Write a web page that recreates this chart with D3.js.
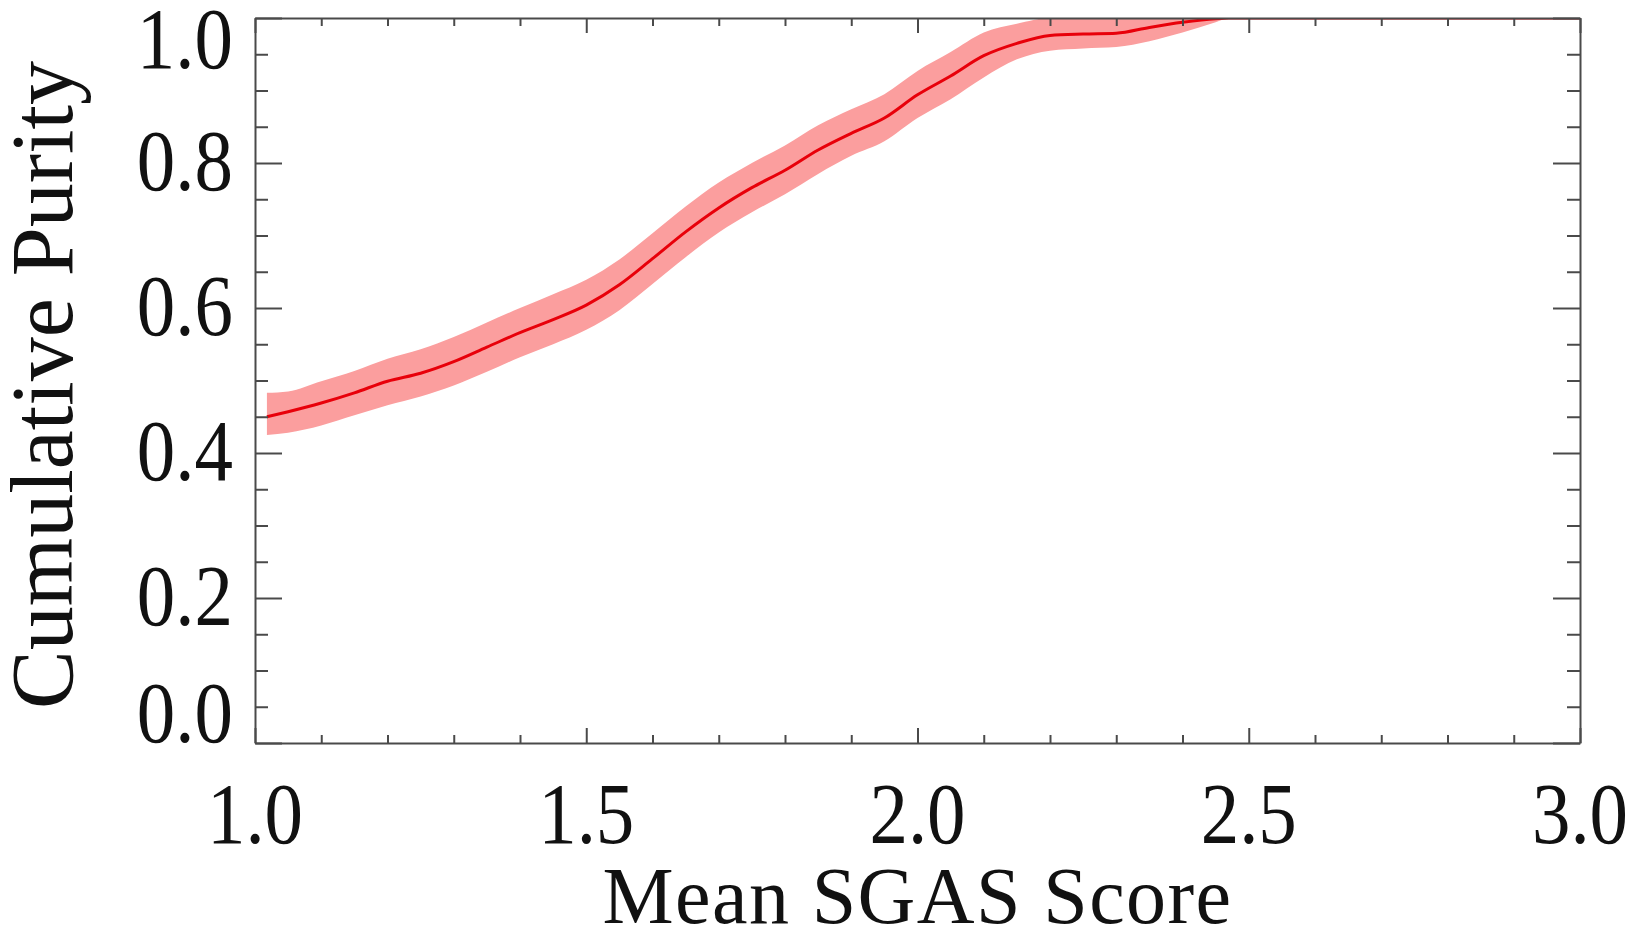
<!DOCTYPE html>
<html>
<head>
<meta charset="utf-8">
<script src="https://cdn.jsdelivr.net/npm/d3@7"></script>
<style>
  html, body { margin: 0; padding: 0; background: #fff; }
  svg { display: block; }
  text { font-family: "Liberation Serif", "DejaVu Serif", serif; fill: #111; }
</style>
</head>
<body>
<svg id="chart" width="1644" height="932"></svg>
<script>
// Mean SGAS score (x) and cumulative purity with its uncertainty band
const scores = [1.018, 1.05, 1.10, 1.15, 1.20, 1.25, 1.30, 1.35, 1.40, 1.45, 1.50, 1.55, 1.60, 1.65,
                1.70, 1.75, 1.80, 1.85, 1.90, 1.95, 2.00, 2.05, 2.10, 2.15, 2.20, 2.25, 2.30, 2.35,
                2.40, 2.45, 2.47, 2.60, 2.80, 3.00];
const purity = [0.450, 0.457, 0.469, 0.483, 0.499, 0.510, 0.526, 0.546, 0.566, 0.584, 0.604, 0.632, 0.668, 0.705,
                0.738, 0.766, 0.790, 0.818, 0.841, 0.862, 0.894, 0.920, 0.948, 0.965, 0.976, 0.978, 0.979, 0.987,
                0.994, 0.999, 1.000, 1.000, 1.000, 1.000];
const purityLow = [0.425, 0.428, 0.438, 0.452, 0.466, 0.478, 0.493, 0.512, 0.532, 0.550, 0.570, 0.597, 0.633, 0.670,
                   0.704, 0.732, 0.757, 0.785, 0.810, 0.830, 0.862, 0.888, 0.918, 0.943, 0.955, 0.958, 0.960, 0.968,
                   0.980, 0.994, 1.000, 1.000, 1.000, 1.000];
const purityHigh = [0.483, 0.485, 0.499, 0.513, 0.530, 0.543, 0.560, 0.580, 0.600, 0.619, 0.639, 0.667, 0.703, 0.740,
                    0.773, 0.800, 0.824, 0.852, 0.874, 0.895, 0.927, 0.953, 0.980, 0.992, 1.000, 1.000, 1.000, 1.000,
                    1.000, 1.000, 1.000, 1.000, 1.000, 1.000];

const xTicks = [1.0, 1.5, 2.0, 2.5, 3.0];
const xMinorTicks = d3.range(10, 31).map(d => d / 10);
const yTicks = [0.0, 0.2, 0.4, 0.6, 0.8, 1.0];
const yMinorTicks = d3.range(0, 21).map(d => d / 20);

const xTitle = "Mean SGAS Score";
const yTitle = "Cumulative Purity";

const svg = d3.select("#chart");
const plot = { left: 255, right: 1580, top: 18, bottom: 743 };

const x = d3.scaleLinear().domain([1.0, 3.0]).range([plot.left, plot.right]);
const y = d3.scaleLinear().domain([0.0, 1.0]).range([plot.bottom, plot.top]);

const data = scores.map((s, i) => ({ s, p: purity[i], lo: purityLow[i], hi: purityHigh[i] }));

svg.append("clipPath").attr("id", "plot-clip")
  .append("rect")
  .attr("x", plot.left).attr("y", plot.top)
  .attr("width", plot.right - plot.left).attr("height", plot.bottom - plot.top);

const g = svg.append("g").attr("clip-path", "url(#plot-clip)");

// uncertainty band
g.append("path")
  .datum(data)
  .attr("fill", "#fb9e9e")
  .attr("d", d3.area().x(d => x(d.s)).y0(d => y(d.lo)).y1(d => y(d.hi)).curve(d3.curveMonotoneX));

// purity curve
g.append("path")
  .datum(data)
  .attr("fill", "none")
  .attr("stroke", "#e8000a")
  .attr("stroke-width", 3)
  .attr("d", d3.line().x(d => x(d.s)).y(d => y(d.p)).curve(d3.curveMonotoneX));

// axes on all four sides, with major and minor ticks
const axisColor = "#4a4a4a";
const xMajorLen = 15, xMinorLen = 8, yMajorLen = 27, yMinorLen = 13;

function styleAxis(sel) {
  sel.selectAll("path.domain").attr("stroke", axisColor).attr("stroke-width", 2);
  sel.selectAll(".tick line").attr("stroke", axisColor).attr("stroke-width", 2);
  sel.selectAll(".tick text").remove();
}

const isMajorX = v => xTicks.some(t => Math.abs(t - v) < 1e-9);
const isMajorY = v => yTicks.some(t => Math.abs(t - v) < 1e-9);

function addXAxis(ypos, factory, sign) {
  const ax = svg.append("g").attr("transform", `translate(0,${ypos})`)
    .call(factory(x).tickValues(xMinorTicks).tickSizeOuter(0).tickSize(0));
  ax.selectAll(".tick line")
    .attr("y2", d => sign * (isMajorX(d) ? xMajorLen : xMinorLen));
  styleAxis(ax);
}
function addYAxis(xpos, factory, sign) {
  const ax = svg.append("g").attr("transform", `translate(${xpos},0)`)
    .call(factory(y).tickValues(yMinorTicks).tickSizeOuter(0).tickSize(0));
  ax.selectAll(".tick line")
    .attr("x2", d => sign * (isMajorY(d) ? yMajorLen : yMinorLen));
  styleAxis(ax);
}

addXAxis(plot.bottom, d3.axisBottom, -1);
addXAxis(plot.top, d3.axisTop, 1);
addYAxis(plot.left, d3.axisLeft, 1);
addYAxis(plot.right, d3.axisRight, -1);

// tick labels, slightly tall old-style serif proportions
const tickFont = 77;
const tickStretch = 1.12;
svg.append("g").selectAll("text")
  .data(xTicks).join("text")
  .attr("transform", d => `translate(${x(d)},843) scale(1,${tickStretch})`)
  .attr("text-anchor", "middle")
  .attr("font-size", tickFont)
  .text(d => d.toFixed(1));

// y labels sit centred on their ticks but stay within the frame's height
svg.append("g").selectAll("text")
  .data(yTicks).join("text")
  .attr("transform", d => {
    const base = Math.min(Math.max(y(d) + 27, plot.top + 50), plot.bottom - 1);
    return `translate(233,${base}) scale(1,${tickStretch})`;
  })
  .attr("text-anchor", "end")
  .attr("font-size", tickFont)
  .text(d => d.toFixed(1));

// axis titles
svg.append("text")
  .attr("x", (plot.left + plot.right) / 2)
  .attr("y", 923)
  .attr("text-anchor", "middle")
  .attr("font-size", 80)
  .attr("letter-spacing", 1.4)
  .text(xTitle);

svg.append("text")
  .attr("transform", `translate(72,385) rotate(-90)`)
  .attr("text-anchor", "middle")
  .attr("font-size", 88)
  .text(yTitle);
</script>
</body>
</html>
